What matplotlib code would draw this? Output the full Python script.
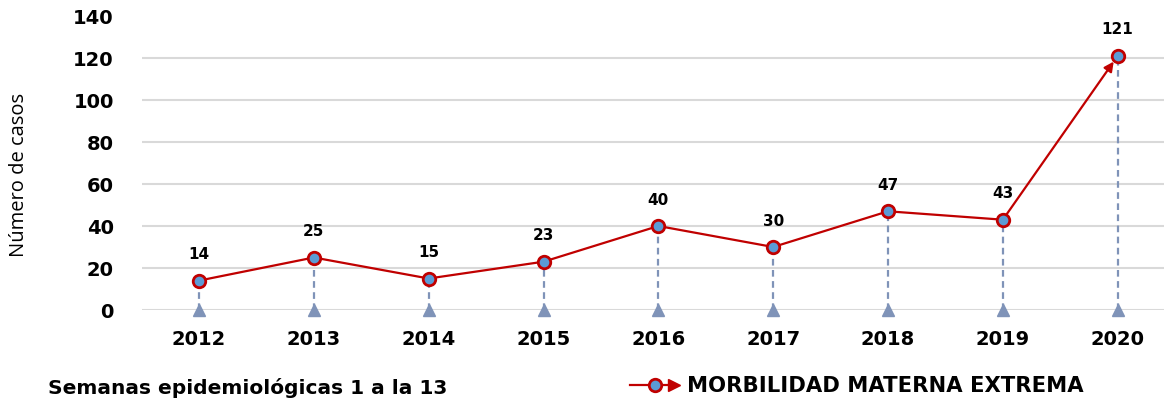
import numpy as np
import matplotlib.pyplot as plt
from matplotlib.lines import Line2D

years = ['2012', '2013', '2014', '2015', '2016', '2017', '2018', '2019', '2020']
casos = [14, 25, 15, 23, 40, 30, 47, 43, 121]
serie = "MORBILIDAD MATERNA EXTREMA"
y_ticks = [0, 20, 40, 60, 80, 100, 120, 140]

red = '#c00000'
blue = '#5b9bd5'
drop = '#7f93b8'

fig = plt.figure(figsize=(11.64, 4.06), dpi=100)
ax = fig.add_axes([141.6 / 1164, 95 / 406, 1033.5 / 1164, 294 / 406])
x = np.arange(len(years))

# grid
for t in y_ticks[:-1]:
    ax.axhline(t, color='#d9d9d9', lw=1.5, zorder=0)

# drop lines with triangles
for xi, yi in zip(x, casos):
    ax.plot([xi, xi], [0, yi], color=drop, lw=1.6, ls=(0, (3, 2)), zorder=1)
ax.plot(x, np.zeros(len(x)), ls='none', marker='^', ms=9, color=drop,
        markeredgecolor=drop, zorder=2, clip_on=False)

# main line (last segment as arrow)
ax.plot(x[:-1], casos[:-1], color=red, lw=1.6, zorder=3)
ax.annotate('', xy=(x[-1], casos[-1]), xytext=(x[-2], casos[-2]),
            arrowprops=dict(arrowstyle='-|>', color=red, lw=1.6,
                            mutation_scale=14, shrinkA=0, shrinkB=5), zorder=3)
ax.plot(x, casos, ls='none', marker='o', ms=9, markerfacecolor=blue,
        markeredgecolor=red, markeredgewidth=2, zorder=4)

for xi, yi in zip(x, casos):
    ax.annotate(str(yi), (xi, yi), xytext=(0, 14), textcoords='offset points',
                ha='center', va='bottom', fontsize=11, fontweight='bold',
                family='DejaVu Sans')

ax.set_xlim(-0.5, len(years) - 0.5)
ax.set_ylim(0, 140)
ax.set_yticks(y_ticks)
ax.set_yticklabels([str(t) for t in y_ticks], fontsize=14, fontweight='bold',
                   family='DejaVu Sans')
ax.set_xticks(x)
ax.set_xticklabels(years, fontsize=14, fontweight='bold', family='DejaVu Sans')
ax.tick_params(length=0, pad=14)
ax.tick_params(axis='y', pad=20)
for s in ax.spines.values():
    s.set_visible(False)
ax.set_ylabel('Número de casos', fontsize=14.5, family='Open Sans')
ax.yaxis.set_label_coords(-0.109, 0.463)

fig.text(48 / 1164, 1 - 388 / 406, 'Semanas epidemiológicas 1 a la 13',
         fontsize=14.5, fontweight='bold', family='DejaVu Sans', va='center')

# legend
ly = 1 - 386 / 406
fig.add_artist(Line2D([630 / 1164, 668 / 1164], [ly, ly], color=red, lw=1.6))
fig.add_artist(Line2D([655 / 1164], [ly], marker='o', ms=9, markerfacecolor=blue,
                      markeredgecolor=red, markeredgewidth=2))
fig.add_artist(Line2D([674 / 1164], [ly], marker='>', ms=8, color=red))
fig.text(687 / 1164, ly, serie, fontsize=15.2, family='DejaVu Sans', va='center',
         fontweight='bold')

fig.savefig('out.png', dpi=100)
